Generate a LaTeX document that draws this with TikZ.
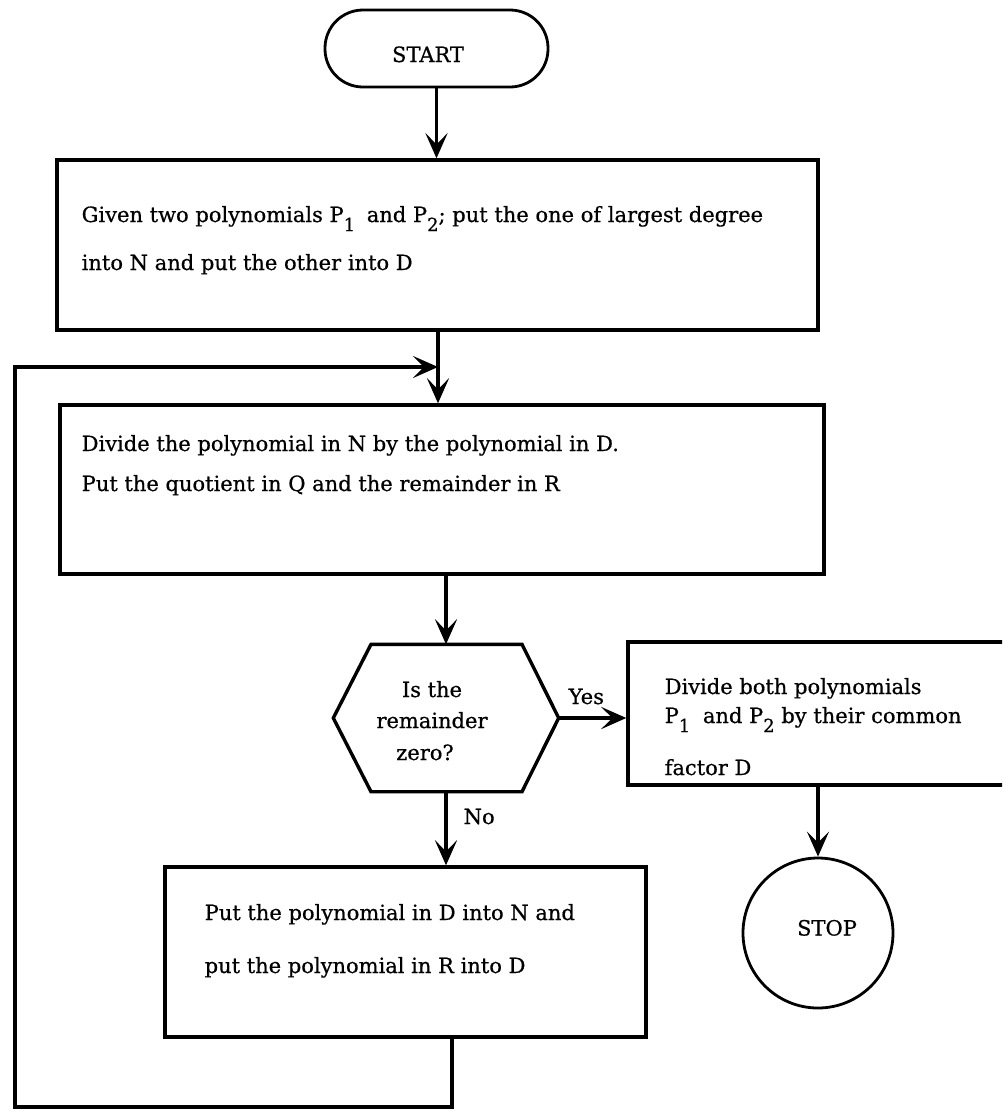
\documentclass[tikz,border=0pt]{standalone}
\usepackage{fontspec}
\setmainfont{DejaVu Serif}[FakeBold=0.6]
\usetikzlibrary{arrows.meta}
% lowered index used after P in the texts
\newcommand\lowidx[1]{\raisebox{-9pt}{\fontsize{18}{18}\selectfont #1}}
\begin{document}
\begin{tikzpicture}[x=1pt,y=-1pt,
  line width=3.4pt,
  arr/.style={-{Stealth[length=25pt,width=22pt,inset=11pt]}},
  boxshape/.style={draw, rectangle, inner sep=0pt},
  thinshape/.style={draw, inner sep=0pt, line width=2.8pt},
  txt/.style={font=\fontsize{21}{25}\selectfont, inner sep=0pt, anchor=base west},
  ctxt/.style={font=\fontsize{21}{25}\selectfont, inner sep=0pt, anchor=base},
]
\clip (0,0) rectangle (1002,1117);
\fill[white] (0,0) rectangle (1002,1117);

% terminal at the top
\node[thinshape, rectangle, rounded corners=38pt, minimum width=223pt, minimum height=77pt] (start) at (436.5,48.5) {};
\node[ctxt] (startlbl) at (428,62) {START};

% first process box
\node[boxshape, minimum width=761pt, minimum height=170pt] (box1) at (437.5,245) {};
\node[txt] (g1) at (80,222) {Given two polynomials P\lowidx{1}\hspace{5pt} and P\lowidx{2}; put the one of largest degree};
\node[txt] (g2) at (80,270) {into N and put the other into D};

% division box
\node[boxshape, minimum width=764pt, minimum height=169pt] (box2) at (442,489.5) {};
\node[txt] (d1) at (80,451) {Divide the polynomial in N by the polynomial in D.};
\node[txt] (d2) at (80,491) {Put the quotient in Q and the remainder in R};

% decision hexagon
\node[minimum width=222pt, minimum height=144pt, inner sep=0pt] (hex) at (446,718) {};
\draw (hex.west) -- ([xshift=-75pt]hex.north) -- ([xshift=76pt]hex.north) -- (hex.east)
  -- ([xshift=76pt]hex.south) -- ([xshift=-75pt]hex.south) -- cycle;
\node[ctxt] (q1) at (432,697) {Is the};
\node[ctxt] (q2) at (432,728) {remainder};
\node[ctxt] (q3) at (425,760) {zero?};

% final division box (runs off the right edge)
\node[boxshape, minimum width=378pt, minimum height=143pt] (box3) at (817,713.5) {};
\node[txt] (f1) at (663,694) {Divide both polynomials};
\node[txt] (f2) at (663,723) {P\lowidx{1}\hspace{6pt} and P\lowidx{2} by their common};
\node[txt] (f3) at (663,775) {factor D};

% swap box
\node[boxshape, minimum width=481pt, minimum height=170pt] (box4) at (405.5,952) {};
\node[txt] (s1) at (203,920) {Put the polynomial in D into N and};
\node[txt] (s2) at (203,973) {put the polynomial in R into D};

% end terminal
\node[thinshape, circle, minimum size=150pt] (stop) at (818,933) {};
\node[ctxt] (stoplbl) at (827,935.5) {STOP};

% branch labels
\node[txt] (yes) at (567,704) {Yes};
\node[txt] (no) at (462,824) {No};

% connectors
\coordinate (join) at (438,367);
\coordinate (loopbot) at (452,1107);
\coordinate (loopleft) at (15,1107);

\draw[arr] (start.south) -- (start.south |- box1.north);
\draw (box1.south -| join) -- (join);
\draw[arr] (join) -- (box2.north -| join);
\draw[arr] (box2.south -| hex.north) -- (hex.north);
\draw[arr] (hex.east) -- (hex.east -| box3.west);
\draw[arr] (hex.south) -- (hex.south |- box4.north);
\draw[arr] (stop.north |- box3.south) -- (stop.north);
\draw[arr] (box4.south -| loopbot) -- (loopbot) -- (loopleft) -- (loopleft |- join) -- (join);
\end{tikzpicture}
\end{document}
